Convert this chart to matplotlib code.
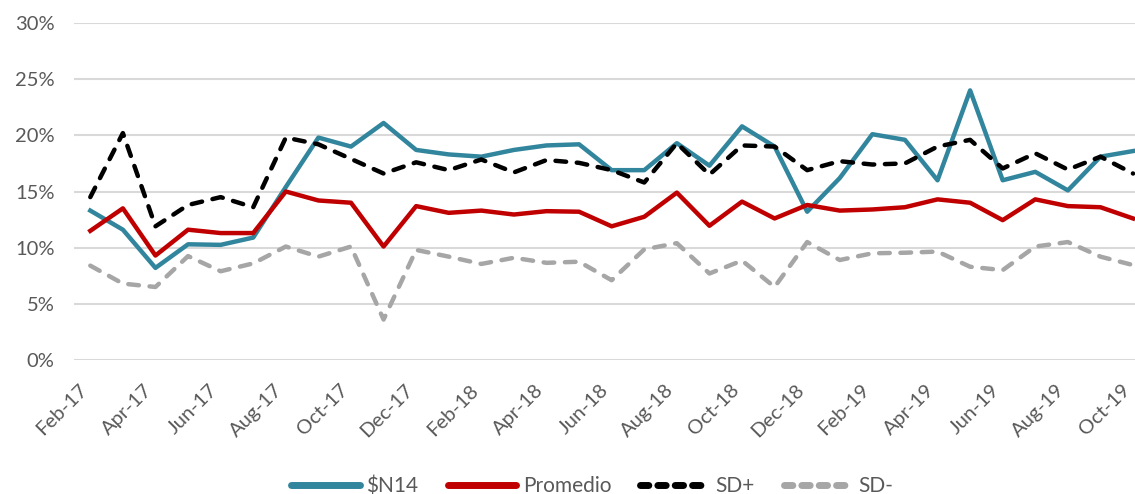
import numpy as np
import pandas as pd
import matplotlib
matplotlib.use('Agg')
import matplotlib.pyplot as plt
from matplotlib.lines import Line2D

months = pd.date_range('2017-02-01', '2019-10-01', freq='MS').strftime('%b-%y').tolist()

sn14 = [13.3, 11.6, 8.2, 10.3, 10.25, 10.9, 15.4, 19.8, 19.0, 21.1,
        18.7, 18.3, 18.1, 18.7, 19.1, 19.2, 16.9, 16.9, 19.3, 17.3, 20.8,
        19.0, 13.2, 16.2, 20.1, 19.6, 16.0, 24.0, 16.0, 16.75, 15.1, 18.1, 18.6]
promedio = [11.5, 13.5, 9.3, 11.6, 11.3, 11.3, 15.0, 14.2, 14.0, 10.1,
            13.7, 13.1, 13.3, 12.95, 13.25, 13.2, 11.9, 12.75, 14.9, 11.95, 14.1,
            12.6, 13.8, 13.3, 13.4, 13.6, 14.3, 14.0, 12.45, 14.3, 13.7, 13.6, 12.6]
sd_plus = [14.5, 20.2, 11.9, 13.8, 14.5, 13.6, 19.8, 19.2, 17.9, 16.6,
           17.6, 16.9, 17.85, 16.7, 17.8, 17.55, 16.9, 15.8, 19.3, 16.5, 19.1,
           19.0, 16.9, 17.7, 17.4, 17.5, 19.0, 19.6, 17.05, 18.4, 16.95, 18.1, 16.6]
sd_minus = [8.4, 6.8, 6.5, 9.25, 7.9, 8.6, 10.1, 9.2, 10.1, 3.6,
            9.8, 9.2, 8.55, 9.1, 8.65, 8.75, 7.1, 9.85, 10.4, 7.7, 8.85,
            6.5, 10.5, 8.9, 9.5, 9.55, 9.65, 8.3, 8.0, 10.1, 10.5, 9.2, 8.45]

labels = ['$N14', 'Promedio', 'SD+', 'SD-']
colors = ['#31859C', '#C00000', 'black', '#A6A6A6']

plt.rcParams['font.family'] = ['Lato', 'DejaVu Sans']

fig = plt.figure(figsize=(11.35, 4.94), dpi=100)
ax = fig.add_axes([74 / 1135, 134 / 494, (1135 - 74) / 1135, 337 / 494])

x = np.arange(len(months))
lw = 3.2
dash = dict(dashes=(2.4, 2.4), dash_capstyle='round')
ax.plot(x, np.array(sn14) / 100, color=colors[0], lw=lw)
ax.plot(x, np.array(promedio) / 100, color=colors[1], lw=lw)
ax.plot(x, np.array(sd_plus) / 100, color=colors[2], lw=lw, **dash)
ax.plot(x, np.array(sd_minus) / 100, color=colors[3], lw=lw, **dash)

ax.set_ylim(0, 0.30)
ax.set_xlim(-0.5, 32.06)
yt = np.arange(0, 0.31, 0.05)
ax.set_yticks(yt)
ax.set_yticklabels([f'{int(round(v * 100))}%' for v in yt])
ax.set_xticks(x[::2])
ax.set_xticklabels(months[::2], rotation=45, ha='right', va='bottom',
                   rotation_mode='anchor')
ax.tick_params(length=0, labelsize=14.5, colors='#595959')
ax.tick_params(axis='y', pad=14)
ax.tick_params(axis='x', pad=24)
ax.grid(axis='y', color='#D9D9D9', lw=1.5)
ax.set_axisbelow(True)
for s in ax.spines.values():
    s.set_visible(False)

handles = [
    Line2D([], [], color=colors[0], lw=5, solid_capstyle='round'),
    Line2D([], [], color=colors[1], lw=5, solid_capstyle='round'),
    Line2D([], [], color=colors[2], lw=5, dashes=(1.2, 1.3), dash_capstyle='round'),
    Line2D([], [], color=colors[3], lw=5, dashes=(1.2, 1.3), dash_capstyle='round'),
]
fig.legend(handles, labels, loc='center', bbox_to_anchor=(0.522, 0.016), ncol=4,
           frameon=False, fontsize=15, labelcolor='#595959', handlelength=3.3,
           columnspacing=1.4, handletextpad=0.3)

fig.savefig('out.png', dpi=100)
